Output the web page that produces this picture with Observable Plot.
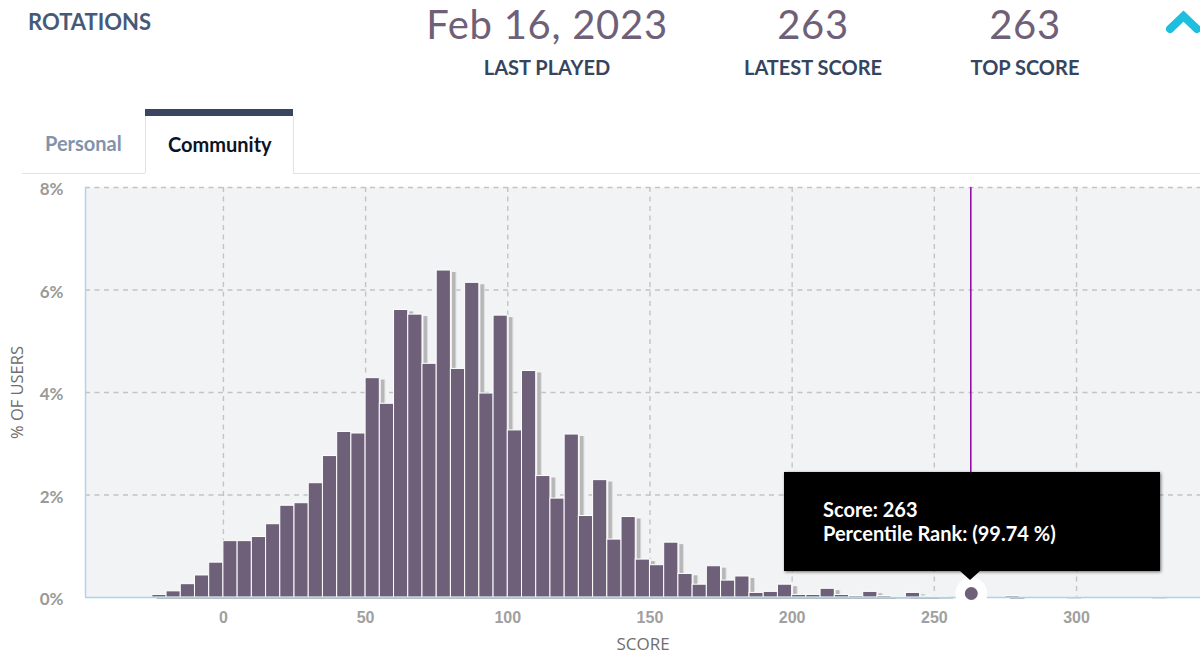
<!DOCTYPE html>
<html><head><meta charset="utf-8">
<script src="https://cdn.jsdelivr.net/npm/d3@7"></script>
<script src="https://cdn.jsdelivr.net/npm/@observablehq/plot@0.6"></script>
<style>
html,body{margin:0;padding:0;background:#fff;width:1200px;height:657px;overflow:hidden}
#page{position:relative;width:1200px;height:657px;font-family:Lato,sans-serif}
#head{position:relative;height:174px}
#head div,#tip div{position:absolute;white-space:nowrap}
.big{color:#6f6079;font-size:40px;letter-spacing:.7px;font-weight:400;transform:translateX(-50%);top:0;line-height:48px}
.sub{color:#36455f;font-size:20px;font-weight:700;transform:translateX(-50%);top:55px;line-height:24px}
#chart{position:absolute;left:0;top:174px}
#chart svg{display:block}
#tip{position:absolute;left:784px;top:472px;width:376px;height:99px;background:#000;box-shadow:1px 1px 3px rgba(0,0,0,.55);color:#fff;font-size:20px;font-weight:700}
#arrow{position:absolute;left:960px;top:571px;width:0;height:0;border-left:10px solid transparent;border-right:10px solid transparent;border-top:9px solid #000}
</style></head><body>
<div id="page">
<div id="head">
 <div style="left:28px;top:10px;font-size:22px;font-weight:700;color:#465a78;line-height:24px">ROTATIONS</div>
 <div class="big" style="left:547px">Feb 16, 2023</div>
 <div class="sub" style="left:547px">LAST PLAYED</div>
 <div class="big" style="left:813px">263</div>
 <div class="sub" style="left:813px">LATEST SCORE</div>
 <div class="big" style="left:1025px">263</div>
 <div class="sub" style="left:1025px">TOP SCORE</div>
 <svg style="position:absolute;left:1160px;top:0" width="40" height="40"><path d="M10 29 L23.500 16 L37 29" fill="none" stroke="#1cbfdd" stroke-width="8" stroke-linecap="round"/></svg>
 <div style="left:145px;top:109px;width:148px;height:7px;background:#3a4562"></div>
 <div style="left:145px;top:116px;width:147px;height:57px;border-left:1px solid #e2e2e2;border-right:1px solid #e2e2e2"></div>
 <div style="left:22px;top:173px;width:123px;height:1px;background:#e2e2e2"></div>
 <div style="left:293px;top:173px;width:907px;height:1px;background:#e2e2e2"></div>
 <div style="left:45px;top:131px;font-size:20px;font-weight:700;color:#8193ab;line-height:24px">Personal</div>
 <div style="left:168px;top:132px;font-size:20px;font-weight:700;color:#0c1424;line-height:24px">Community</div>
</div>
<div id="chart"></div>
<div id="tip"><div style="left:39px;top:25px;line-height:24px">Score: 263</div><div style="left:39px;top:49px;line-height:24px">Percentile Rank: (99.74 %)</div></div>
<div id="arrow"></div>
</div>
<script>
const binStarts = [-25,-20,-15,-10,-5,0,5,10,15,20,25,30,35,40,45,50,55,60,65,70,75,80,85,90,95,100,105,110,115,120,125,130,135,140,145,150,155,160,165,170,175,180,185,190,195,200,205,210,215,220,225,230,235,240,245,250,275,295,325];
const percents  = [0.05,0.12,0.26,0.43,0.68,1.10,1.10,1.18,1.43,1.79,1.84,2.23,2.76,3.23,3.20,4.28,3.78,5.61,5.52,4.56,6.38,4.46,6.14,3.98,5.50,3.26,4.42,2.37,1.93,3.18,1.59,2.29,1.13,1.57,0.74,0.63,1.07,0.46,0.25,0.61,0.33,0.41,0.09,0.11,0.25,0.05,0.05,0.17,0.05,0.03,0.11,0.03,0.01,0.09,0.02,0.01,0.03,0.006,0.006];
const xTicks = [0,50,100,150,200,250,300];
const yTicks = [0,2,4,6,8];
const xDomain = [-48.5,343.6];
const yDomain = [0,8];
const binWidth = 5;
const myScore = 263;
const bins = binStarts.map((s,i)=>({s,e:s+binWidth,p:percents[i]}));
const dash = {stroke:"#c4c4c4",strokeWidth:1.4,strokeDasharray:"5,4.5",strokeOpacity:1};
const chart = Plot.plot({
  width:1200,height:483,marginLeft:85,marginRight:0,marginTop:13,marginBottom:60,
  style:{background:"transparent",overflow:"visible"},
  x:{domain:xDomain,label:null},
  y:{domain:yDomain,label:null},
  marks:[
    Plot.frame({fill:"#f2f3f5",stroke:null}),
    Plot.ruleX(xTicks,dash),
    Plot.ruleY(yTicks.filter(d=>d>0),dash),
    Plot.ruleX([xDomain[0]],{stroke:"#a9d3f5",strokeWidth:1.4}),
    Plot.ruleX([myScore],{stroke:"#960ea6",strokeWidth:1.6,dx:-0.5}),
    Plot.rectY(bins,{x1:"s",x2:"e",y:"p",fill:"#dcdcdc",dx:6,dy:2}),
    Plot.rectY(bins,{x1:"s",x2:"e",y:"p",fill:"#b7b7b7",dx:5,dy:2}),
    Plot.rectY(bins,{x1:"s",x2:"e",y:"p",fill:"#f2f3f5",dx:1.5,dy:0}),
    Plot.rectY(bins,{x1:"s",x2:"e",y:"p",fill:"#6f6079",stroke:"#fff",strokeWidth:1}),
    Plot.ruleY([0],{stroke:"#a9d3f0",strokeWidth:1.4}),
    Plot.dot([myScore],{x:d=>d,y:()=>0,r:16,fill:"#fff",dy:-4}),
    Plot.dot([myScore],{x:d=>d,y:()=>0,r:6.5,fill:"#6f6079",dy:-4}),
    Plot.axisX({ticks:xTicks,tickSize:0,tickPadding:14,fontFamily:"Liberation Sans",fontWeight:700,fontSize:16,fill:"#a0a0a0",label:null}),
    Plot.axisY({ticks:yTicks,tickSize:0,tickPadding:22,dy:2.5,tickFormat:d=>d+"%",fontFamily:"Lato",fontWeight:700,fontSize:17,fill:"#9a9a96",label:null}),
    Plot.axisX({ticks:[],label:"SCORE",labelAnchor:"center",labelArrow:"none",labelOffset:52,fontFamily:"Open Sans",fontSize:17,fill:"#6e6e6e"}),
    Plot.axisY({ticks:[],label:"% OF USERS",labelAnchor:"center",labelArrow:"none",labelOffset:74,fontFamily:"Open Sans",fontSize:16.5,fill:"#6e6e6e"})
  ]
});
document.getElementById("chart").appendChild(chart);
</script>
</body></html>
